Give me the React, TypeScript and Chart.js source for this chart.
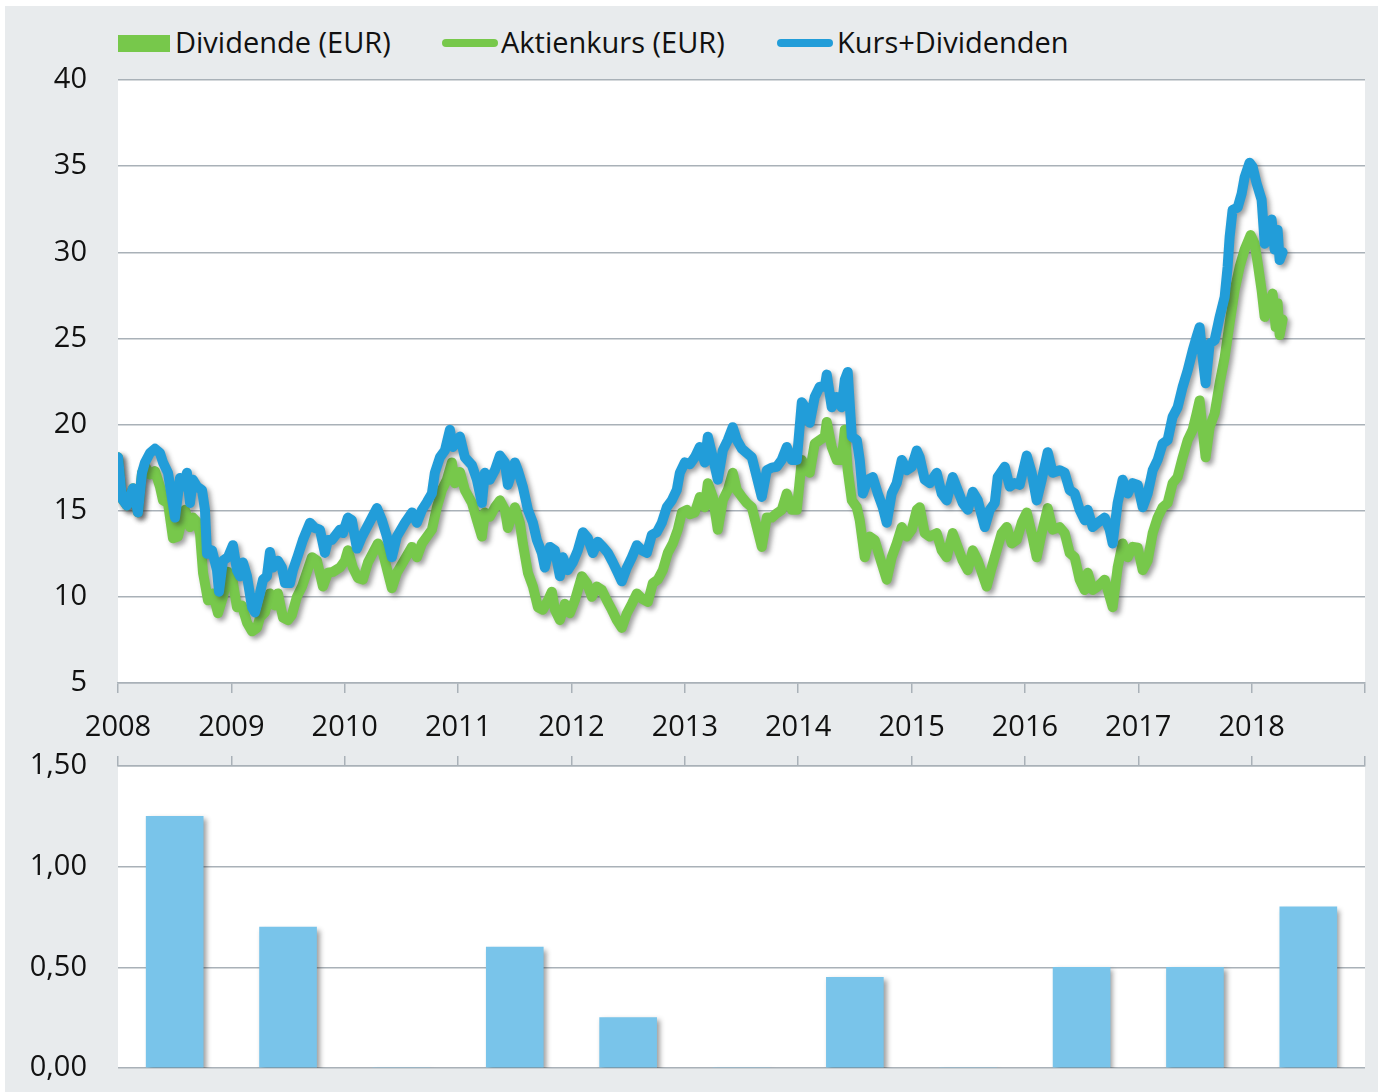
import React, { useEffect, useRef } from "react";
import { Chart, registerables } from "chart.js";

Chart.register(...registerables);

// ---------- data ----------
const yearTicks = [2008, 2009, 2010, 2011, 2012, 2013, 2014, 2015, 2016, 2017, 2018, 2019];
const priceTicks = [5, 10, 15, 20, 25, 30, 35, 40];
const dividendTicks = [0, 0.5, 1.0, 1.5];

const dividendYears = [2008, 2009, 2010, 2011, 2012, 2013, 2014, 2015, 2016, 2017, 2018];
const dividendValues = [1.25, 0.7, 0, 0.6, 0.25, 0, 0.45, 0, 0.5, 0.5, 0.8];

// Aktienkurs (EUR) - dates as decimal years
const aktienkursDates = [
  2008.000, 2008.035, 2008.079, 2008.132, 2008.176, 2008.212, 2008.238, 2008.282, 2008.326, 2008.370,
  2008.397, 2008.441, 2008.485, 2008.529, 2008.564, 2008.591, 2008.635, 2008.661, 2008.697, 2008.723,
  2008.750, 2008.794, 2008.838, 2008.882, 2008.926, 2008.970, 2009.005, 2009.049, 2009.093, 2009.138,
  2009.182, 2009.226, 2009.252, 2009.296, 2009.340, 2009.384, 2009.411, 2009.455, 2009.499, 2009.534,
  2009.578, 2009.623, 2009.667, 2009.711, 2009.755, 2009.808, 2009.852, 2009.896, 2009.958, 2010.002,
  2010.028, 2010.072, 2010.116, 2010.160, 2010.205, 2010.249, 2010.293, 2010.337, 2010.381, 2010.416,
  2010.460, 2010.513, 2010.593, 2010.637, 2010.681, 2010.725, 2010.769, 2010.813, 2010.857, 2010.901,
  2010.945, 2010.972, 2011.016, 2011.060, 2011.122, 2011.166, 2011.210, 2011.236, 2011.280, 2011.325,
  2011.369, 2011.413, 2011.439, 2011.501, 2011.545, 2011.571, 2011.616, 2011.660, 2011.704, 2011.748,
  2011.792, 2011.827, 2011.854, 2011.898, 2011.942, 2011.986, 2012.030, 2012.092, 2012.136, 2012.180,
  2012.224, 2012.268, 2012.312, 2012.356, 2012.400, 2012.444, 2012.489, 2012.533, 2012.577, 2012.621,
  2012.674, 2012.718, 2012.762, 2012.806, 2012.850, 2012.894, 2012.938, 2012.974, 2013.018, 2013.044,
  2013.088, 2013.132, 2013.176, 2013.203, 2013.247, 2013.291, 2013.335, 2013.379, 2013.423, 2013.459,
  2013.503, 2013.547, 2013.591, 2013.635, 2013.679, 2013.723, 2013.767, 2013.811, 2013.855, 2013.899,
  2013.944, 2013.988, 2014.032, 2014.076, 2014.102, 2014.146, 2014.190, 2014.235, 2014.252, 2014.296,
  2014.340, 2014.384, 2014.411, 2014.437, 2014.473, 2014.517, 2014.543, 2014.587, 2014.631, 2014.675,
  2014.720, 2014.781, 2014.825, 2014.869, 2014.914, 2014.958, 2015.002, 2015.046, 2015.072, 2015.116,
  2015.161, 2015.222, 2015.266, 2015.310, 2015.363, 2015.407, 2015.451, 2015.496, 2015.540, 2015.584,
  2015.663, 2015.707, 2015.751, 2015.795, 2015.840, 2015.884, 2015.928, 2015.972, 2016.016, 2016.060,
  2016.104, 2016.148, 2016.201, 2016.245, 2016.307, 2016.351, 2016.395, 2016.439, 2016.483, 2016.527,
  2016.554, 2016.598, 2016.642, 2016.704, 2016.748, 2016.774, 2016.818, 2016.862, 2016.907, 2016.951,
  2016.995, 2017.039, 2017.083, 2017.127, 2017.171, 2017.215, 2017.259, 2017.303, 2017.347, 2017.392,
  2017.436, 2017.480, 2017.515, 2017.541, 2017.568, 2017.594, 2017.630, 2017.674, 2017.718, 2017.762,
  2017.806, 2017.850, 2017.894, 2017.938, 2017.991, 2018.026, 2018.053, 2018.088, 2018.115, 2018.141,
  2018.185, 2018.212, 2018.229, 2018.247, 2018.273,
];
const aktienkursValues = [
  18.1, 15.7, 15.3, 16.3, 14.9, 17.2, 17.6, 17.1, 17.3, 16.4,
  15.6, 15.45, 13.4, 13.5, 14.45, 15.05, 14.05, 14.6, 14.35, 13.7,
  11.4, 9.8, 10.2, 9.05, 10.0, 11.45, 11.2, 9.4, 9.5, 8.5,
  8.0, 8.2, 8.8, 9.1, 10.2, 9.5, 10.2, 8.8, 8.65, 8.95,
  10.0, 10.6, 11.45, 12.3, 12.1, 10.6, 11.4, 11.45, 11.7, 12.1,
  12.7, 11.7, 11.1, 11.0, 12.0, 12.55, 13.1, 12.55, 11.4, 10.5,
  11.4, 12.0, 12.9, 12.3, 13.1, 13.5, 13.9, 15.2, 16.2, 16.8,
  17.8, 16.6, 17.25, 16.2, 15.45, 14.45, 13.5, 14.9, 14.65, 15.2,
  15.6, 15.05, 14.0, 15.2, 14.3, 13.1, 11.4, 10.6, 9.4, 9.25,
  9.8, 10.3, 9.25, 8.65, 9.6, 9.05, 9.8, 11.2, 10.8, 10.0,
  10.6, 10.4, 9.8, 9.25, 8.65, 8.2, 9.05, 9.6, 10.2, 9.9,
  9.7, 10.8, 11.0, 11.55, 12.55, 13.1, 13.9, 14.9, 15.05, 14.8,
  14.9, 15.8, 15.2, 16.6, 15.8, 13.9, 15.6, 16.2, 17.2, 16.2,
  15.8, 15.45, 15.2, 14.05, 12.9, 14.6, 14.6, 14.85, 15.05, 16.0,
  15.05, 15.05, 17.95, 17.35, 17.2, 18.9, 19.1, 19.3, 20.15, 18.7,
  17.95, 17.95, 19.7, 17.35, 15.6, 15.2, 14.45, 12.3, 13.5, 13.3,
  12.3, 11.0, 12.3, 13.1, 14.05, 13.5, 13.9, 15.05, 15.2, 13.7,
  13.5, 13.7, 12.7, 12.3, 13.7, 12.9, 12.1, 11.55, 12.7, 12.1,
  10.6, 11.7, 12.7, 13.7, 14.05, 13.1, 13.3, 14.3, 14.9, 13.7,
  12.3, 13.7, 15.15, 13.9, 14.05, 13.7, 12.55, 12.3, 11.0, 10.4,
  11.4, 10.4, 10.6, 11.0, 10.0, 9.4, 11.7, 13.1, 12.3, 12.9,
  12.85, 11.55, 12.1, 13.7, 14.6, 15.2, 15.45, 16.6, 16.95, 18.1,
  19.1, 19.7, 20.65, 21.4, 19.7, 18.1, 19.85, 20.65, 22.4, 23.9,
  25.9, 27.8, 29.15, 30.15, 31.0, 30.5, 29.4, 27.8, 26.25, 26.8,
  27.6, 25.65, 27.05, 25.2, 26.1,
];

// Kurs+Dividenden - dates as decimal years
const kursDivDates = [
  2008.000, 2008.035, 2008.079, 2008.132, 2008.176, 2008.212, 2008.238, 2008.282, 2008.326, 2008.370,
  2008.397, 2008.441, 2008.503, 2008.547, 2008.573, 2008.608, 2008.635, 2008.661, 2008.697, 2008.741,
  2008.767, 2008.785, 2008.829, 2008.873, 2008.891, 2008.926, 2008.970, 2009.014, 2009.049, 2009.076,
  2009.102, 2009.138, 2009.182, 2009.208, 2009.252, 2009.279, 2009.314, 2009.340, 2009.367, 2009.411,
  2009.446, 2009.473, 2009.517, 2009.543, 2009.587, 2009.631, 2009.693, 2009.737, 2009.781, 2009.825,
  2009.852, 2009.887, 2009.958, 2009.984, 2010.028, 2010.063, 2010.108, 2010.152, 2010.196, 2010.240,
  2010.284, 2010.328, 2010.372, 2010.416, 2010.460, 2010.531, 2010.593, 2010.637, 2010.681, 2010.725,
  2010.769, 2010.795, 2010.840, 2010.884, 2010.928, 2010.954, 2011.016, 2011.060, 2011.122, 2011.166,
  2011.210, 2011.236, 2011.280, 2011.325, 2011.369, 2011.413, 2011.439, 2011.501, 2011.527, 2011.571,
  2011.616, 2011.660, 2011.695, 2011.739, 2011.765, 2011.810, 2011.854, 2011.898, 2011.924, 2011.968,
  2012.012, 2012.056, 2012.101, 2012.145, 2012.189, 2012.233, 2012.277, 2012.321, 2012.365, 2012.409,
  2012.444, 2012.489, 2012.533, 2012.577, 2012.621, 2012.665, 2012.709, 2012.753, 2012.797, 2012.841,
  2012.885, 2012.929, 2012.956, 2013.000, 2013.044, 2013.088, 2013.132, 2013.176, 2013.203, 2013.247,
  2013.291, 2013.335, 2013.379, 2013.423, 2013.459, 2013.503, 2013.547, 2013.591, 2013.635, 2013.679,
  2013.723, 2013.767, 2013.811, 2013.855, 2013.899, 2013.944, 2013.988, 2014.032, 2014.076, 2014.102,
  2014.146, 2014.190, 2014.235, 2014.252, 2014.296, 2014.340, 2014.384, 2014.411, 2014.437, 2014.473,
  2014.517, 2014.543, 2014.570, 2014.614, 2014.658, 2014.702, 2014.746, 2014.781, 2014.825, 2014.869,
  2014.914, 2014.958, 2015.002, 2015.046, 2015.072, 2015.116, 2015.161, 2015.222, 2015.266, 2015.310,
  2015.363, 2015.407, 2015.451, 2015.496, 2015.540, 2015.584, 2015.646, 2015.690, 2015.734, 2015.760,
  2015.822, 2015.866, 2015.910, 2015.954, 2016.016, 2016.060, 2016.104, 2016.148, 2016.201, 2016.245,
  2016.307, 2016.351, 2016.395, 2016.439, 2016.483, 2016.527, 2016.554, 2016.598, 2016.642, 2016.704,
  2016.748, 2016.774, 2016.818, 2016.862, 2016.907, 2016.951, 2016.995, 2017.039, 2017.083, 2017.127,
  2017.171, 2017.215, 2017.259, 2017.303, 2017.347, 2017.392, 2017.436, 2017.480, 2017.515, 2017.541,
  2017.568, 2017.594, 2017.630, 2017.674, 2017.718, 2017.762, 2017.788, 2017.806, 2017.832, 2017.877,
  2017.912, 2017.938, 2017.982, 2018.009, 2018.044, 2018.088, 2018.115, 2018.141, 2018.176, 2018.203,
  2018.229, 2018.247, 2018.273,
];
const kursDivValues = [
  18.1, 15.7, 15.3, 16.3, 14.9, 17.2, 17.8, 18.35, 18.6, 18.35,
  17.8, 17.2, 14.6, 16.9, 16.4, 17.2, 15.45, 16.8, 16.4, 16.2,
  15.05, 12.5, 12.7, 11.55, 10.3, 12.1, 12.3, 13.0, 11.55, 11.2,
  12.0, 11.2, 9.4, 9.1, 10.2, 11.0, 11.2, 12.6, 11.7, 12.1,
  11.7, 10.8, 10.8, 11.55, 12.4, 13.3, 14.3, 14.0, 13.9, 12.55,
  13.3, 13.3, 13.9, 13.7, 14.6, 14.45, 12.8, 13.5, 14.05, 14.6,
  15.15, 14.45, 13.5, 12.3, 13.5, 14.3, 14.9, 14.3, 15.05, 15.5,
  16.0, 17.2, 18.1, 18.5, 19.7, 18.7, 19.3, 18.1, 17.65, 16.8,
  15.45, 17.2, 16.8, 17.35, 18.2, 17.8, 16.5, 17.8, 17.35, 16.4,
  15.05, 14.3, 13.3, 12.55, 11.7, 12.9, 12.7, 11.2, 12.3, 11.55,
  12.0, 12.7, 13.75, 13.4, 12.55, 13.2, 12.9, 12.55, 12.0, 11.4,
  10.9, 11.7, 12.3, 13.0, 12.7, 12.55, 13.6, 13.75, 14.3, 15.2,
  15.6, 16.2, 17.2, 17.8, 17.7, 18.1, 18.7, 17.8, 19.3, 18.1,
  16.8, 18.5, 19.1, 19.85, 19.1, 18.6, 18.35, 18.1, 16.95, 15.8,
  17.35, 17.5, 17.55, 17.95, 18.7, 17.95, 17.95, 21.3, 20.85, 20.1,
  21.6, 22.2, 22.2, 22.9, 21.0, 21.6, 21.0, 22.6, 23.05, 19.3,
  19.1, 17.95, 16.0, 16.8, 16.95, 16.0, 15.2, 14.3, 16.0, 16.6,
  17.95, 17.35, 17.55, 18.5, 18.1, 16.8, 16.6, 17.2, 16.0, 15.6,
  16.95, 16.2, 15.45, 15.05, 16.1, 15.6, 14.05, 15.05, 15.45, 16.95,
  17.55, 16.4, 16.6, 16.5, 18.2, 17.2, 15.6, 16.8, 18.4, 17.2,
  17.35, 17.2, 16.2, 16.0, 15.05, 14.45, 15.05, 14.05, 14.3, 14.6,
  13.9, 13.1, 15.45, 16.8, 16.0, 16.6, 16.5, 15.2, 16.0, 17.35,
  17.95, 18.9, 19.1, 20.45, 21.0, 22.2, 23.15, 24.3, 25.1, 25.65,
  23.9, 22.4, 24.7, 24.9, 26.25, 27.4, 29.15, 30.9, 32.45, 32.6,
  33.4, 34.35, 35.2, 34.95, 34.0, 33.05, 30.5, 31.1, 31.9, 30.15,
  31.3, 29.55, 30.0,
];

// ---------- styles ----------
const GREEN = "#77c84b";
const BLUE = "#229dd9";
const BAR = "#79c4ea";
const GRID = "#a9b1b8";
const PANEL = "#e8ebed";
const TEXT = "#111111";
const FONT = "'Open Sans', sans-serif";

const shadowPlugin = {
  id: "dropShadow",
  beforeDatasetDraw(chart: any) {
    const ctx = chart.ctx;
    ctx.save();
    ctx.shadowColor = "rgba(40,40,40,0.45)";
    ctx.shadowBlur = 5;
    ctx.shadowOffsetX = 3;
    ctx.shadowOffsetY = 3;
  },
  afterDatasetDraw(chart: any) {
    chart.ctx.restore();
  },
};

const plotBgPlugin = {
  id: "plotBg",
  beforeDraw(chart: any) {
    const { ctx, chartArea: a } = chart;
    ctx.save();
    ctx.fillStyle = "#ffffff";
    ctx.fillRect(a.left, a.top, a.right - a.left, a.bottom - a.top);
    ctx.restore();
  },
};

const toPoints = (xs: number[], ys: number[]) => xs.map((x, i) => ({ x, y: ys[i] }));

const fixY = (s: any) => {
  s.width = 118;
  s.paddingTop = 0;
  s.paddingBottom = 0;
};

export default function App() {
  const topRef = useRef<HTMLCanvasElement>(null);
  const botRef = useRef<HTMLCanvasElement>(null);

  useEffect(() => {
    Chart.defaults.font.family = FONT;

    const top = new Chart(topRef.current as HTMLCanvasElement, {
      type: "line",
      data: {
        datasets: [
          {
            label: "Kurs+Dividenden",
            data: toPoints(kursDivDates, kursDivValues),
            borderColor: BLUE,
            backgroundColor: BLUE,
            borderWidth: 10,
            pointRadius: 0,
            tension: 0,
            borderJoinStyle: "round",
            borderCapStyle: "round",
            order: 0,
          },
          {
            label: "Aktienkurs (EUR)",
            data: toPoints(aktienkursDates, aktienkursValues),
            borderColor: GREEN,
            backgroundColor: GREEN,
            borderWidth: 10,
            pointRadius: 0,
            tension: 0,
            borderJoinStyle: "round",
            borderCapStyle: "round",
            order: 1,
          },
        ],
      },
      options: {
        responsive: false,
        animation: false,
        layout: { padding: { left: 0, right: 13, top: 20, bottom: 0 } },
        plugins: { legend: { display: false }, tooltip: { enabled: false } },
        scales: {
          x: {
            type: "linear",
            min: 2008,
            max: 2019,
            afterBuildTicks: (s: any) => {
              s.ticks = yearTicks.map((v) => ({ value: v }));
            },
            afterFit: (s: any) => {
              s.height = 67;
              s.paddingLeft = 0;
              s.paddingRight = 0;
            },
            grid: { drawOnChartArea: false, drawTicks: true, tickLength: 10, color: GRID, lineWidth: 1.5 },
            border: { display: true, color: GRID, width: 1.5 },
            ticks: {
              autoSkip: false,
              maxRotation: 0,
              padding: 17,
              color: TEXT,
              font: { size: 29, family: FONT },
              callback: (v: any) => (Number(v) <= 2018 ? String(v) : ""),
            },
          },
          y: {
            type: "linear",
            min: 5,
            max: 40,
            afterBuildTicks: (s: any) => {
              s.ticks = priceTicks.map((v) => ({ value: v }));
            },
            afterFit: fixY,
            grid: { color: GRID, lineWidth: 1.5, drawTicks: false },
            border: { display: false },
            ticks: { padding: 31, color: TEXT, font: { size: 29, family: FONT }, callback: (v: any) => String(v) },
          },
        },
      },
      plugins: [plotBgPlugin, shadowPlugin],
    } as any);

    const bottom = new Chart(botRef.current as HTMLCanvasElement, {
      type: "bar",
      data: {
        datasets: [
          {
            label: "Dividende (EUR)",
            data: dividendYears.map((yr, i) => ({ x: yr + 0.5, y: dividendValues[i] })),
            backgroundColor: BAR,
            borderWidth: 0,
            barThickness: 57,
          },
        ],
      },
      options: {
        responsive: false,
        animation: false,
        layout: { padding: { left: 0, right: 13, top: 0, bottom: 24 } },
        plugins: { legend: { display: false }, tooltip: { enabled: false } },
        scales: {
          x: {
            type: "linear",
            position: "top",
            offset: false,
            min: 2008,
            max: 2019,
            afterBuildTicks: (s: any) => {
              s.ticks = yearTicks.map((v) => ({ value: v }));
            },
            afterFit: (s: any) => {
              s.height = 21;
              s.paddingLeft = 0;
              s.paddingRight = 0;
            },
            grid: { offset: false, drawOnChartArea: false, drawTicks: true, tickLength: 10, color: GRID, lineWidth: 1.5 },
            border: { display: true, color: GRID, width: 1.5 },
            ticks: { display: false },
          },
          y: {
            type: "linear",
            min: 0,
            max: 1.5,
            afterBuildTicks: (s: any) => {
              s.ticks = dividendTicks.map((v) => ({ value: v }));
            },
            afterFit: fixY,
            grid: { color: GRID, lineWidth: 1.5, drawTicks: false },
            border: { display: false },
            ticks: {
              padding: 31,
              color: TEXT,
              font: { size: 29, family: FONT },
              callback: (v: any) => Number(v).toFixed(2).replace(".", ","),
            },
          },
        },
      },
      plugins: [plotBgPlugin, shadowPlugin],
    } as any);

    return () => {
      top.destroy();
      bottom.destroy();
    };
  }, []);

  const legendText: React.CSSProperties = {
    position: "absolute",
    top: 25,
    fontSize: 29,
    lineHeight: "34px",
    color: TEXT,
    whiteSpace: "nowrap",
    fontFamily: FONT,
  };

  return (
    <div
      style={{
        position: "fixed",
        left: 0,
        top: 0,
        width: 1378,
        height: 1092,
        background: "#ffffff",
        overflow: "hidden",
        fontFamily: FONT,
      }}
    >
      <div style={{ position: "absolute", left: 5, top: 6, right: 0, bottom: 0, background: PANEL }} />
      {/* legend */}
      <div style={{ position: "absolute", left: 118, top: 35, width: 52, height: 17, background: GREEN }} />
      <div style={{ ...legendText, left: 175 }}>Dividende (EUR)</div>
      <div style={{ position: "absolute", left: 442, top: 39, width: 56, height: 8, borderRadius: 4, background: GREEN }} />
      <div style={{ ...legendText, left: 501 }}>Aktienkurs (EUR)</div>
      <div style={{ position: "absolute", left: 777, top: 39, width: 56, height: 8, borderRadius: 4, background: BLUE }} />
      <div style={{ ...legendText, left: 837 }}>Kurs+Dividenden</div>

      <canvas
        ref={topRef}
        width={1378}
        height={690}
        style={{ position: "absolute", left: 0, top: 60, width: 1378, height: 690 }}
      />
      <canvas
        ref={botRef}
        width={1378}
        height={347}
        style={{ position: "absolute", left: 0, top: 745, width: 1378, height: 347 }}
      />
    </div>
  );
}
